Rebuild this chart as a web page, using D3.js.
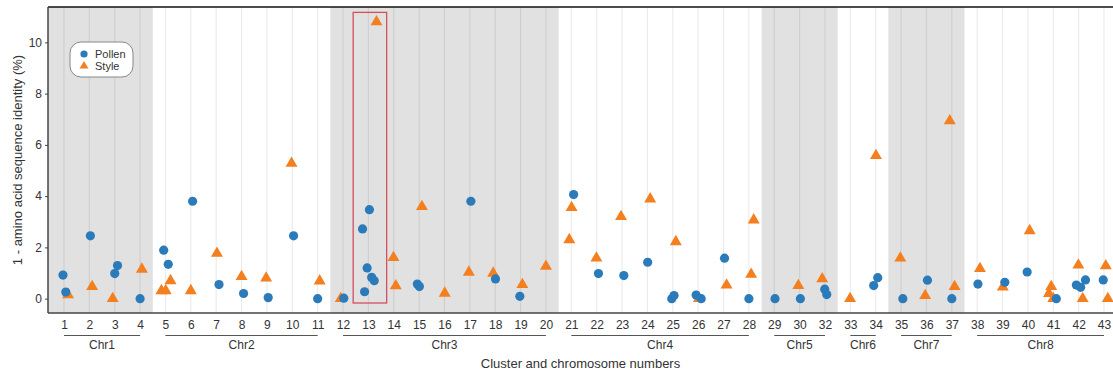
<!DOCTYPE html>
<html lang="en">
  <head>
    <meta charset="UTF-8" />
    <title>Sequence identity by cluster</title>
    <script src="https://d3js.org/d3.v7.min.js"></script>
    <style>
      body {
        margin: 0;
        background: #fff;
        font-family: "Liberation Sans", Arial, sans-serif;
      }
      svg text {
        fill: #333;
      }
    </style>
  </head>
  <body>
    <svg id="chart" width="1113" height="376"></svg>
    <script>
      // cluster labels on the x axis (there is no 31)
      const clusters = [
        "1", "2", "3", "4", "5", "6", "7", "8", "9", "10", "11", "12", "13", "14",
        "15", "16", "17", "18", "19", "20", "21", "22", "23", "24", "25", "26",
        "27", "28", "29", "30", "32", "33", "34", "35", "36", "37", "38", "39",
        "40", "41", "42", "43",
      ];

      // chromosome groups: name, first and last cluster
      const chromosomes = [
        ["Chr1", "1", "4"],
        ["Chr2", "5", "11"],
        ["Chr3", "12", "20"],
        ["Chr4", "21", "28"],
        ["Chr5", "29", "32"],
        ["Chr6", "33", "34"],
        ["Chr7", "35", "37"],
        ["Chr8", "38", "43"],
      ];
      const shadedChr = ["Chr1", "Chr3", "Chr5", "Chr7"];

      const yTicks = [0, 2, 4, 6, 8, 10];

      // Pollen: cluster, value (%), jitter (fraction of one cluster step)
      const pollenCluster = [
        "1", "1", "2", "3", "3", "4", "5", "5", "6", "7", "8", "9", "10", "11",
        "12", "13", "13", "13", "13", "13", "13", "15", "15", "17", "18", "19",
        "21", "22", "23", "24", "25", "25", "26", "26", "27", "28", "29", "30",
        "32", "32", "34", "34", "35", "36", "37", "38", "39", "40", "41", "42",
        "42", "42", "43",
      ];
      const pollenValue = [
        0.92, 0.26, 2.45, 1.29, 0.98, 0.0, 1.89, 1.34, 3.8, 0.55, 0.2, 0.04,
        2.45, 0.0, 0.02, 3.47, 2.72, 1.2, 0.83, 0.7, 0.27, 0.57, 0.47, 3.8,
        0.77, 0.09, 4.06, 0.98, 0.9, 1.42, 0.0, 0.12, 0.14, 0.0, 1.58, 0.0, 0.0,
        0.0, 0.37, 0.16, 0.51, 0.82, 0.0, 0.72, 0.0, 0.57, 0.64, 1.04, 0.0,
        0.53, 0.44, 0.73, 0.73,
      ];
      const pollenJitter = [
        -0.04, 0.07, 0.04, 0.11, 0.0, 0.0, -0.07, 0.11, 0.07, 0.11, 0.08, 0.05,
        0.05, 0.0, 0.03, 0.04, -0.23, -0.05, 0.13, 0.23, -0.15, -0.07, 0.01,
        0.04, 0.01, -0.03, 0.09, 0.07, 0.07, 0.01, -0.04, 0.05, -0.08, 0.12,
        0.04, 0.0, 0.03, 0.03, -0.01, 0.07, -0.08, 0.08, 0.07, 0.04, 0.0, 0.03,
        0.09, -0.03, 0.12, -0.09, 0.08, 0.27, -0.03,
      ];

      // Style: cluster, value (%), jitter
      const styleCluster = [
        "1", "2", "3", "4", "5", "5", "5", "6", "7", "8", "9", "10", "11", "12",
        "13", "14", "14", "15", "16", "17", "18", "19", "20", "21", "21", "22",
        "23", "24", "25", "26", "27", "28", "28", "30", "32", "33", "34", "35",
        "36", "37", "37", "38", "39", "40", "41", "41", "41", "42", "42", "43",
        "43",
      ];
      const styleValue = [
        0.15, 0.47, 0.0, 1.15, 0.31, 0.31, 0.7, 0.31, 1.77, 0.86, 0.8, 5.28,
        0.69, 0.0, 10.8, 1.6, 0.5, 3.59, 0.21, 1.03, 0.99, 0.55, 1.26, 3.55,
        2.3, 1.58, 3.2, 3.89, 2.22, 0.0, 0.53, 3.07, 0.95, 0.51, 0.77, 0.0,
        5.58, 1.58, 0.12, 6.94, 0.47, 1.17, 0.45, 2.65, 0.47, 0.2, 0.0, 1.31,
        0.0, 1.28, 0.0,
      ];
      const styleJitter = [
        0.16, 0.11, -0.08, 0.07, -0.16, 0.01, 0.2, 0.0, 0.03, 0.0, -0.03, -0.03,
        0.08, -0.09, 0.32, -0.01, 0.08, 0.11, 0.01, -0.04, -0.08, 0.07, 0.0,
        0.01, -0.08, -0.01, -0.04, 0.11, 0.12, 0.03, 0.12, 0.19, 0.09, -0.05,
        -0.11, -0.01, 0.01, -0.03, -0.05, -0.08, 0.11, 0.11, 0.01, 0.07, -0.08,
        -0.17, 0.0, -0.01, 0.16, 0.07, 0.15,
      ];

      const highlightCluster = "13";

      const W = 1113,
        H = 376;
      const plot = { left: 48, right: W, top: 7, bottom: 313 };
      const blue = "#2b7bba",
        orange = "#f47f1f";

      const svg = d3.select("#chart");

      const x = d3.scalePoint().domain(clusters).range([64, 1104]);
      const step = x.step();
      const y = d3
        .scaleLinear()
        .domain([-0.56, 11.38])
        .range([plot.bottom, plot.top]);

      // shaded chromosome bands
      chromosomes.forEach(([name, first, last], i) => {
        if (!shadedChr.includes(name)) return;
        const x0 = i === 0 ? plot.left : x(first) - step / 2;
        const x1 = i === chromosomes.length - 1 ? plot.right : x(last) + step / 2;
        svg
          .append("rect")
          .attr("x", x0)
          .attr("y", plot.top)
          .attr("width", x1 - x0)
          .attr("height", plot.bottom - plot.top)
          .attr("fill", "#e1e1e1");
      });

      // vertical grid lines at each cluster
      svg
        .append("g")
        .selectAll("line")
        .data(clusters)
        .join("line")
        .attr("x1", (d) => x(d))
        .attr("x2", (d) => x(d))
        .attr("y1", plot.top)
        .attr("y2", plot.bottom)
        .attr("stroke", "#000")
        .attr("stroke-opacity", 0.08)
        .attr("stroke-width", 1.2);

      // top border
      svg
        .append("line")
        .attr("x1", plot.left)
        .attr("x2", plot.right)
        .attr("y1", plot.top)
        .attr("y2", plot.top)
        .attr("stroke", "#111")
        .attr("stroke-width", 1.5);

      // highlight box round cluster 13
      const hx = x(highlightCluster);
      svg
        .append("rect")
        .attr("x", hx - 0.6 * step)
        .attr("y", y(11.17))
        .attr("width", 1.32 * step)
        .attr("height", y(-0.17) - y(11.17))
        .attr("fill", "none")
        .attr("stroke", "#d5505e")
        .attr("stroke-width", 1.3);

      // points
      const pollen = pollenCluster.map((c, i) => ({
        c,
        v: pollenValue[i],
        j: pollenJitter[i],
      }));
      const style = styleCluster.map((c, i) => ({
        c,
        v: styleValue[i],
        j: styleJitter[i],
      }));

      const tri = d3.symbol().type(d3.symbolTriangle).size(62);

      svg
        .append("g")
        .selectAll("path")
        .data(style)
        .join("path")
        .attr("d", tri)
        .attr(
          "transform",
          (d) => `translate(${x(d.c) + d.j * step},${y(d.v)})`
        )
        .attr("fill", orange);

      svg
        .append("g")
        .selectAll("circle")
        .data(pollen)
        .join("circle")
        .attr("cx", (d) => x(d.c) + d.j * step)
        .attr("cy", (d) => y(d.v))
        .attr("r", 4.6)
        .attr("fill", blue);

      // y axis
      const yAxis = svg
        .append("g")
        .attr("transform", `translate(${plot.left},0)`)
        .call(d3.axisLeft(y).tickValues(yTicks).tickSize(3).tickPadding(3));
      yAxis.select(".domain").remove();
      yAxis.selectAll(".tick line").attr("stroke", "#444");
      yAxis
        .selectAll(".tick text")
        .attr("font-size", 12)
        .attr("font-family", "Liberation Sans, Arial, sans-serif");
      svg
        .append("line")
        .attr("x1", plot.left)
        .attr("x2", plot.left)
        .attr("y1", plot.top)
        .attr("y2", plot.bottom)
        .attr("stroke", "#444")
        .attr("stroke-width", 1.5);

      // x axis
      const xAxis = svg
        .append("g")
        .attr("transform", `translate(0,${plot.bottom})`)
        .call(d3.axisBottom(x).tickSize(0).tickPadding(7));
      xAxis.select(".domain").remove();
      xAxis
        .selectAll(".tick text")
        .attr("font-size", 12)
        .attr("font-family", "Liberation Sans, Arial, sans-serif");
      svg
        .append("line")
        .attr("x1", plot.left)
        .attr("x2", plot.right)
        .attr("y1", plot.bottom)
        .attr("y2", plot.bottom)
        .attr("stroke", "#444")
        .attr("stroke-width", 1.5);

      // chromosome brackets
      const chrG = svg.append("g");
      chromosomes.forEach(([name, first, last]) => {
        chrG
          .append("line")
          .attr("x1", x(first))
          .attr("x2", x(last))
          .attr("y1", 335.5)
          .attr("y2", 335.5)
          .attr("stroke", "#555")
          .attr("stroke-width", 1);
        chrG
          .append("text")
          .attr("x", (x(first) + x(last)) / 2)
          .attr("y", 349)
          .attr("text-anchor", "middle")
          .attr("font-size", 12)
          .text(name);
      });

      // axis titles
      svg
        .append("text")
        .attr("x", (plot.left + plot.right) / 2)
        .attr("y", 368)
        .attr("text-anchor", "middle")
        .attr("font-size", 13)
        .text("Cluster and chromosome numbers");

      svg
        .append("text")
        .attr("transform", `translate(22,${(plot.top + plot.bottom) / 2}) rotate(-90)`)
        .attr("text-anchor", "middle")
        .attr("font-size", 13)
        .text("1 - amino acid sequence identity (%)");

      // legend
      const lg = svg.append("g").attr("transform", "translate(70,42)");
      lg.append("rect")
        .attr("width", 63)
        .attr("height", 35)
        .attr("rx", 11)
        .attr("fill", "#fff")
        .attr("stroke", "#888")
        .attr("stroke-width", 1);
      lg.append("circle").attr("cx", 14).attr("cy", 12).attr("r", 3.6).attr("fill", blue);
      lg.append("path")
        .attr("d", d3.symbol().type(d3.symbolTriangle).size(34))
        .attr("transform", "translate(14,24)")
        .attr("fill", orange);
      lg.append("text").attr("x", 25).attr("y", 16).attr("font-size", 11).text("Pollen");
      lg.append("text").attr("x", 25).attr("y", 28).attr("font-size", 11).text("Style");
    </script>
  </body>
</html>
